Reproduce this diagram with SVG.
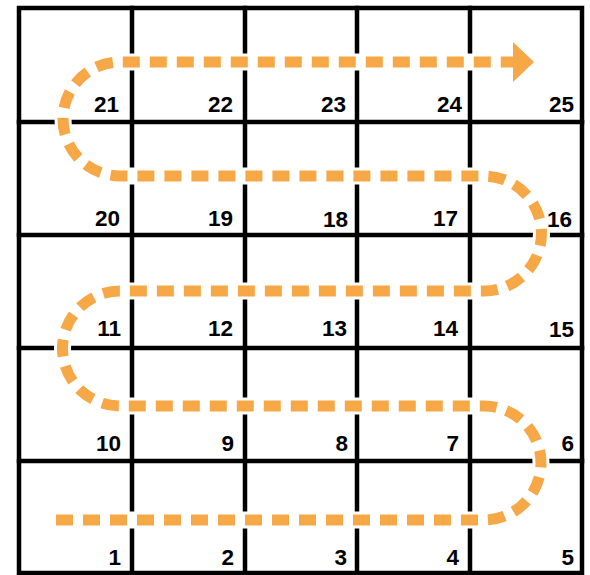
<svg xmlns="http://www.w3.org/2000/svg" width="590" height="575" viewBox="0 0 590 575">
<style>
.grid{stroke:#000;stroke-width:4.5;fill:none;stroke-linecap:square}
.halo{stroke:#fff;stroke-width:17;fill:none}
.trail{stroke:#F6A746;stroke-width:11;fill:none;stroke-dasharray:17 10}
.lbl{font-family:"Liberation Sans",Arial,sans-serif;font-weight:bold;font-size:22.5px;fill:#000;text-anchor:end}
</style>
<defs>
<marker id="head" markerUnits="userSpaceOnUse" markerWidth="24" markerHeight="42" refX="0" refY="21" orient="auto" viewBox="0 0 24 42">
<polygon points="0,1 21,21 0,41" fill="#F6A746"/>
</marker>
</defs>
<rect width="590" height="575" fill="#fff"/>
<g id="grid">
<rect class="grid" x="19" y="8" width="563" height="565"/>
<line class="grid" x1="132" y1="8" x2="132" y2="573"/>
<line class="grid" x1="245" y1="8" x2="245" y2="573"/>
<line class="grid" x1="357" y1="8" x2="357" y2="573"/>
<line class="grid" x1="470" y1="8" x2="470" y2="573"/>
<line class="grid" x1="19" y1="122" x2="582" y2="122"/>
<line class="grid" x1="19" y1="235" x2="582" y2="235"/>
<line class="grid" x1="19" y1="348" x2="582" y2="348"/>
<line class="grid" x1="19" y1="461" x2="582" y2="461"/>
</g>
<g id="connectors">
<path class="halo" d="M 56 520 H 484 A 57 57 0 0 0 484 406 H 120 A 57.5 57.5 0 0 1 120 291 H 484 A 57.5 57.5 0 0 0 484 176 H 120 A 57 57 0 0 1 120 62 H 512"/>
<path class="trail" marker-end="url(#head)" d="M 56 520 H 484 A 57 57 0 0 0 484 406 H 120 A 57.5 57.5 0 0 1 120 291 H 484 A 57.5 57.5 0 0 0 484 176 H 120 A 57 57 0 0 1 120 62 H 513"/>
</g>
<g id="labels">
<g id="n21"><text class="lbl" x="119" y="112">21</text></g>
<g id="n22"><text class="lbl" x="233" y="112">22</text></g>
<g id="n23"><text class="lbl" x="346" y="112">23</text></g>
<g id="n24"><text class="lbl" x="462" y="112">24</text></g>
<g id="n25"><text class="lbl" x="574" y="112">25</text></g>
<g id="n20"><text class="lbl" x="120" y="226">20</text></g>
<g id="n19"><text class="lbl" x="233" y="226">19</text></g>
<g id="n18"><text class="lbl" x="348" y="227">18</text></g>
<g id="n17"><text class="lbl" x="458" y="226">17</text></g>
<g id="n16"><text class="lbl" x="572" y="227">16</text></g>
<g id="n11"><text class="lbl" x="121" y="336">11</text></g>
<g id="n12"><text class="lbl" x="233" y="336">12</text></g>
<g id="n13"><text class="lbl" x="347" y="336">13</text></g>
<g id="n14"><text class="lbl" x="458" y="336">14</text></g>
<g id="n15"><text class="lbl" x="574" y="337">15</text></g>
<g id="n10"><text class="lbl" x="121" y="451">10</text></g>
<g id="n9"><text class="lbl" x="234" y="451">9</text></g>
<g id="n8"><text class="lbl" x="348" y="451">8</text></g>
<g id="n7"><text class="lbl" x="459" y="451">7</text></g>
<g id="n6"><text class="lbl" x="574" y="451">6</text></g>
<g id="n1"><text class="lbl" x="121" y="565">1</text></g>
<g id="n2"><text class="lbl" x="234" y="565">2</text></g>
<g id="n3"><text class="lbl" x="347" y="565">3</text></g>
<g id="n4"><text class="lbl" x="459" y="565">4</text></g>
<g id="n5"><text class="lbl" x="574" y="565">5</text></g>
</g>
</svg>
